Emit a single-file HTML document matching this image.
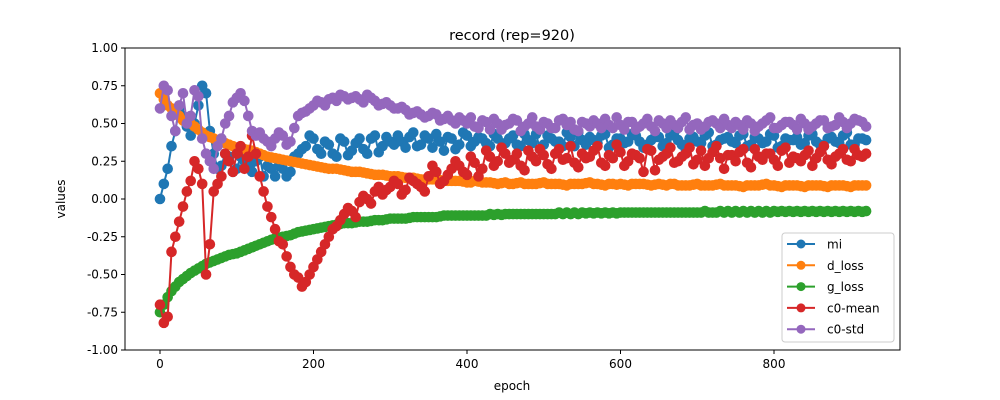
<!DOCTYPE html>
<html><head><meta charset="utf-8"><style>
body{margin:0;background:#fff;}
svg{display:block;font-family:"DejaVu Sans","Liberation Sans",sans-serif;}
</style></head><body>
<svg id="chart" width="1000" height="400"></svg>
<script>
const epochs = [];
for (let i = 0; i <= 92; i++) epochs.push(i * 10);
const epochsB = [];
for (let i = 0; i < 92; i++) epochsB.push(i * 10 + 5);
const seriesNames = ["mi","d_loss","g_loss","c0-mean","c0-std"];
const colors = ["#1f77b4","#ff7f0e","#2ca02c","#d62728","#9467bd"];
const miVals = [0.00,0.20,0.45,0.55,0.42,0.62,0.70,0.30,0.22,0.28,0.20,0.25,0.18,0.28,0.22,0.15,0.20,0.18,0.30,0.35,0.40,0.30,0.36,0.28,0.38,0.32,0.40,0.30,0.42,0.35,0.38,0.42,0.34,0.44,0.36,0.40,0.43,0.32,0.40,0.36,0.42,0.38,0.40,0.35,
0.40,0.37,0.42,0.35,0.39,0.43,0.36,0.40,0.38,0.44,0.35,0.39,0.41,0.37,0.43,0.36,0.40,0.38,0.42,0.34,0.39,0.41,0.37,0.44,0.36,0.40,0.38,0.42,0.35,0.39,0.41,0.37,0.43,0.36,0.40,0.38,0.42,0.35,0.39,0.41,0.37,0.43,0.36,0.40,0.38,0.42,0.36,0.40,0.39];
const miValsB = [0.10,0.35,0.60,0.48,0.50,0.75,0.45,0.20,0.30,0.18,0.28,0.22,0.25,0.15,0.20,0.22,0.15,0.28,0.33,0.42,0.33,0.38,0.30,0.40,0.29,0.37,0.33,0.40,0.31,0.41,0.36,0.38,0.41,0.35,0.42,0.34,0.38,0.41,0.33,0.44,0.35,0.41,0.37,0.43,
0.34,0.40,0.36,0.43,0.37,0.33,0.42,0.38,0.35,0.41,0.44,0.36,0.39,0.42,0.34,0.40,0.37,0.43,0.38,0.36,0.41,0.35,0.42,0.39,0.33,0.41,0.37,0.44,0.36,0.40,0.38,0.42,0.35,0.41,0.37,0.43,0.34,0.40,0.39,0.36,0.42,0.38,0.35,0.41,0.37,0.44,0.36,0.40];
const dLossVals = [0.70,0.62,0.58,0.52,0.50,0.46,0.42,0.40,0.38,0.36,0.34,0.33,0.32,0.30,0.28,0.27,0.26,0.25,0.24,0.23,0.22,0.21,0.20,0.20,0.19,0.18,0.18,0.17,0.16,0.16,0.15,0.15,0.14,0.14,0.13,0.13,0.13,0.12,0.12,0.12,0.11,0.12,0.11,0.11,0.10,0.11,0.10,0.11,0.10,0.10,0.11,0.10,0.10,0.09,0.10,0.10,0.11,0.10,0.09,0.10,0.10,0.09,0.10,0.10,0.09,0.10,0.09,0.10,0.09,0.09,0.10,0.09,0.09,0.10,0.09,0.09,0.08,0.09,0.09,0.10,0.09,0.08,0.09,0.09,0.08,0.09,0.09,0.08,0.09,0.09,0.08,0.09,0.09];
const dLossValsB = [0.66,0.60,0.55,0.51,0.48,0.44,0.41,0.39,0.37,0.35,0.335,0.325,0.31,0.29,0.275,0.265,0.255,0.245,0.235,0.225,0.215,0.205,0.20,0.195,0.185,0.18,0.175,0.165,0.16,0.155,0.15,0.145,0.14,0.135,0.13,0.13,0.125,0.12,0.12,0.115,
0.11,0.115,0.11,0.105,0.105,0.10,0.105,0.10,0.10,0.105,0.10,0.10,0.095,0.10,0.10,0.105,0.10,0.095,0.10,0.095,0.095,0.10,0.10,0.095,0.095,0.095,0.10,0.09,0.09,0.095,0.09,0.09,0.095,0.09,0.09,0.085,0.09,0.09,0.095,0.09,0.085,0.09,0.09,0.085,0.09,0.09,0.085,0.09,0.09,0.085,0.09,0.09];
const gLossVals = [-0.75,-0.65,-0.58,-0.53,-0.49,-0.46,-0.43,-0.41,-0.39,-0.37,-0.36,-0.34,-0.32,-0.30,-0.28,-0.26,-0.25,-0.24,-0.22,-0.21,-0.20,-0.19,-0.18,-0.17,-0.16,-0.16,-0.15,-0.15,-0.14,-0.14,-0.13,-0.13,-0.13,-0.12,-0.12,-0.12,-0.12,-0.11,-0.11,-0.11,-0.11,-0.11,-0.11,-0.10,-0.10,-0.10,-0.10,-0.10,-0.10,-0.10,-0.10,-0.10,-0.09,-0.09,-0.09,-0.09,-0.09,-0.09,-0.09,-0.09,-0.09,-0.09,-0.09,-0.09,-0.09,-0.09,-0.09,-0.09,-0.09,-0.09,-0.09,-0.08,-0.09,-0.08,-0.08,-0.08,-0.08,-0.08,-0.08,-0.08,-0.08,-0.08,-0.08,-0.08,-0.08,-0.08,-0.08,-0.08,-0.08,-0.08,-0.08,-0.08,-0.08];
const gLossValsB = [-0.70,-0.61,-0.55,-0.51,-0.475,-0.445,-0.42,-0.40,-0.38,-0.365,-0.35,-0.33,-0.31,-0.29,-0.27,-0.255,-0.245,-0.23,-0.215,-0.205,-0.195,-0.185,-0.175,-0.165,-0.16,-0.155,-0.15,-0.145,-0.14,-0.135,-0.13,-0.13,-0.125,-0.12,-0.12,-0.12,-0.115,-0.11,-0.11,-0.11,
-0.11,-0.11,-0.11,-0.105,-0.105,-0.10,-0.10,-0.10,-0.10,-0.10,-0.10,-0.10,-0.10,-0.10,-0.10,-0.095,-0.095,-0.095,-0.095,-0.095,-0.09,-0.09,-0.09,-0.09,-0.09,-0.09,-0.09,-0.09,-0.09,-0.09,-0.09,-0.09,-0.09,-0.09,-0.09,-0.09,-0.09,-0.09,-0.09,-0.09,-0.085,-0.085,-0.085,-0.085,-0.085,-0.085,-0.085,-0.085,-0.085,-0.085,-0.085,-0.085];
const c0MeanVals = [-0.70,-0.78,-0.25,-0.05,0.12,0.20,-0.50,0.05,0.15,0.25,0.30,0.20,0.42,0.15,-0.05,-0.20,-0.30,-0.45,-0.52,-0.55,-0.45,-0.35,-0.25,-0.18,-0.10,-0.08,-0.02,0.00,0.05,0.03,0.08,0.10,0.06,0.12,0.08,0.15,0.18,0.12,0.20,0.22,0.16,0.24,0.20,0.28,0.25,0.30,
0.26,0.22,0.32,0.25,0.29,0.20,0.33,0.27,0.24,0.30,0.28,0.35,0.22,0.27,0.31,0.25,0.29,0.18,0.32,0.26,0.30,0.24,0.28,0.34,0.26,0.22,0.31,0.27,0.29,0.25,0.33,0.21,0.28,0.30,0.26,0.32,0.24,0.27,0.29,0.22,0.31,0.26,0.28,0.33,0.25,0.29,0.30];
const c0MeanValsB = [-0.82,-0.35,-0.15,0.05,0.25,0.10,-0.30,0.10,0.30,0.18,0.35,0.28,0.30,0.05,-0.12,-0.28,-0.38,-0.50,-0.58,-0.50,-0.40,-0.30,-0.20,-0.14,-0.06,-0.12,0.02,-0.03,0.08,0.06,0.12,0.03,0.14,0.10,0.05,0.22,0.10,0.16,0.25,0.18,0.28,0.15,0.32,0.22,0.34,0.24,
0.30,0.19,0.28,0.33,0.23,0.30,0.26,0.35,0.21,0.27,0.32,0.24,0.29,0.36,0.22,0.30,0.27,0.33,0.19,0.28,0.34,0.25,0.30,0.23,0.32,0.27,0.35,0.20,0.29,0.31,0.24,0.33,0.26,0.30,0.22,0.34,0.28,0.25,0.32,0.27,0.35,0.23,0.30,0.26,0.33,0.28];
const c0StdVals = [0.60,0.72,0.45,0.70,0.55,0.68,0.30,0.20,0.40,0.55,0.67,0.65,0.45,0.44,0.38,0.40,0.42,0.38,0.55,0.58,0.62,0.64,0.66,0.65,0.68,0.67,0.66,0.69,0.65,0.63,0.62,0.60,0.59,0.57,0.56,0.55,0.56,0.53,0.52,0.54,0.50,
0.48,0.52,0.46,0.50,0.49,0.53,0.45,0.50,0.48,0.51,0.47,0.52,0.49,0.46,0.51,0.48,0.50,0.53,0.47,0.49,0.51,0.46,0.50,0.48,0.52,0.47,0.49,0.51,0.46,0.50,0.48,0.52,0.47,0.49,0.51,0.46,0.50,0.48,0.52,0.47,0.49,0.51,0.46,0.50,0.48,0.52,0.47,0.49,0.51,0.50,0.52,0.48];
const c0StdValsB = [0.75,0.55,0.62,0.50,0.72,0.40,0.25,0.35,0.50,0.64,0.70,0.55,0.42,0.40,0.35,0.44,0.36,0.47,0.57,0.60,0.65,0.62,0.67,0.69,0.66,0.68,0.64,0.67,0.62,0.64,0.60,0.61,0.56,0.58,0.54,0.57,0.52,0.55,0.50,0.52,
0.54,0.47,0.51,0.53,0.46,0.50,0.52,0.48,0.54,0.46,0.50,0.47,0.53,0.51,0.45,0.50,0.52,0.47,0.49,0.54,0.46,0.51,0.48,0.53,0.45,0.50,0.52,0.47,0.54,0.49,0.46,0.51,0.50,0.53,0.47,0.49,0.52,0.45,0.50,0.54,0.47,0.51,0.49,0.53,0.46,0.50,0.52,0.48,0.54,0.47,0.53,0.51];
const xTicks = [0,200,400,600,800];
const yTicks = [-1.00,-0.75,-0.50,-0.25,0.00,0.25,0.50,0.75,1.00];

const NS = "http://www.w3.org/2000/svg";
const svg = document.getElementById("chart");
const L = 125, R = 900, T = 48, B = 350;
function xS(e){ return 160 + e * 0.7675; }
function yS(v){ return 199 - v * 151; }
function mk(tag, attrs, parent){
  const el = document.createElementNS(NS, tag);
  for (const k in attrs) el.setAttribute(k, attrs[k]);
  (parent || svg).appendChild(el);
  return el;
}
function txt(s, attrs, parent){ const t = mk("text", attrs, parent); t.textContent = s; return t; }
function merge(a, b){
  const out = [];
  a.forEach((v, i) => {
    out.push([epochs[i], v]);
    if (i < b.length) out.push([epochsB[i], b[i]]);
  });
  return out;
}

const defs = mk("defs", {});
const cp = mk("clipPath", {id:"clip"}, defs);
mk("rect", {x:L, y:T, width:R-L, height:B-T}, cp);

const plot = mk("g", {"clip-path":"url(#clip)"});


const allSeries = [merge(miVals, miValsB), merge(dLossVals, dLossValsB), merge(gLossVals, gLossValsB), merge(c0MeanVals, c0MeanValsB), merge(c0StdVals, c0StdValsB)];
allSeries.forEach((pts, si) => {
  const g = mk("g", {}, plot);
  
  
  const ps = pts.map(p => xS(p[0]).toFixed(1) + "," + yS(p[1]).toFixed(1)).join(" ");
  const pl = mk("polyline", {points:ps, fill:"none", stroke:colors[si], "stroke-width":2}, g);
  
  
  pts.forEach(p => {
    const c = mk("circle", {cx:xS(p[0]), cy:yS(p[1]), r:5.3, fill:colors[si]}, g);
    
    
  });
});

const frame = mk("rect", {x:L, y:T, width:R-L, height:B-T, fill:"none", stroke:"#000", "stroke-width":1});



xTicks.forEach(t => {
  const x = xS(t);
  mk("line", {x1:x, x2:x, y1:B, y2:B+4, stroke:"#000"});
  const lb = txt(String(t), {x:x, y:B+18, "font-size":12, "text-anchor":"middle"});
  
  
});
yTicks.forEach(t => {
  const y = yS(t);
  mk("line", {x1:L-4, x2:L, y1:y, y2:y, stroke:"#000"});
  const lb = txt(t.toFixed(2), {x:L-7, y:y+4, "font-size":12, "text-anchor":"end"});
  
  
});

const title = txt("record (rep=920)", {x:512, y:40, "font-size":14.5, "text-anchor":"middle"});


const xl = txt("epoch", {x:512, y:390, "font-size":12, "text-anchor":"middle"});


const yl = txt("values", {x:0, y:0, "font-size":12, "text-anchor":"middle", transform:"translate(65,199) rotate(-90)"});



const leg = mk("g", {});


mk("rect", {x:782, y:233, width:112, height:109, rx:3, fill:"#fff", "fill-opacity":0.8, stroke:"#ccc"}, leg);
seriesNames.forEach((n, i) => {
  const y = 244 + i * 21.3;
  const e = mk("g", {}, leg);
  
  
  mk("line", {x1:787, x2:815, y1:y, y2:y, stroke:colors[i], "stroke-width":2}, e);
  mk("circle", {cx:801, cy:y, r:4.5, fill:colors[i]}, e);
  txt(n, {x:827, y:y+4.5, "font-size":12}, e);
});
</script>
</body></html>
